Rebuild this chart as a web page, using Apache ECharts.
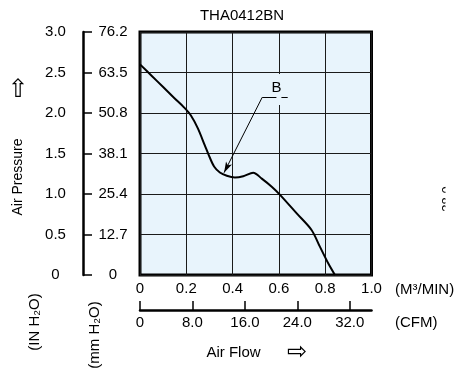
<!DOCTYPE html>
<html>
<head>
<meta charset="utf-8">
<script src="https://cdn.jsdelivr.net/npm/echarts@6/dist/echarts.min.js"></script>
<style>
html,body{margin:0;padding:0;background:#fff;}
#chart{width:455px;height:371px;}
</style>
</head>
<body>
<div id="chart"></div>
<script>
// ---- data ----
const flowM3 =     [0,    0.05, 0.10, 0.15, 0.19, 0.22, 0.25, 0.28, 0.30, 0.32, 0.345, 0.375, 0.41,  0.446, 0.489, 0.526, 0.569, 0.605, 0.677, 0.741, 0.777, 0.813, 0.842];
const pressureIn = [2.60, 2.46, 2.32, 2.18, 2.07, 1.97, 1.81, 1.60, 1.46, 1.34, 1.265, 1.225, 1.205, 1.22,  1.263, 1.19,  1.09,  0.99,  0.76,  0.556, 0.35,  0.144, 0];
const m3Ticks = [0, 0.2, 0.4, 0.6, 0.8, 1.0];
const inTicks = [0, 0.5, 1.0, 1.5, 2.0, 2.5, 3.0];
const mmTicks = [0, 12.7, 25.4, 38.1, 50.8, 63.5, 76.2];
const cfmTicks = [0, 8, 16, 24, 32];
const CFM_MAX = 35.3147;   // 1.0 m3/min in CFM
const titleText = 'THA0412BN';
const curveLabel = 'B';

const FONT = '"Liberation Sans", Arial, sans-serif';
const BG = '#e8f4fc';
const fmt = v => (Math.abs(v) < 1e-9 ? '0' : (+v).toFixed(1));

const chart = echarts.init(document.getElementById('chart'), null, {renderer: 'canvas'});
const series = [
  {
    type: 'line', xAxisIndex: 0, yAxisIndex: 0, z: 5,
    data: flowM3.map((x, i) => [x, pressureIn[i]]),
    smooth: 0.3, showSymbol: false, symbol: 'none',
    lineStyle: {color: '#000', width: 2}
  },
  {
    type: 'line', xAxisIndex: 0, yAxisIndex: 0, z: 3, data: [],
    markPoint: {
      silent: true, animation: false,
      data: [{
        coord: [0.6, 2.29], symbol: 'rect', symbolSize: [5, 31],
        itemStyle: {color: BG},
        label: {show: true, formatter: curveLabel, position: 'inside', offset: [-2.5, -1.5],
                color: '#000', fontSize: 15, fontFamily: FONT}
      }]
    }
  },
  {
    type: 'line', xAxisIndex: 0, yAxisIndex: 0, z: 6, data: [],
    markLine: {
      silent: true, animation: false,
      label: {show: false},
      lineStyle: {color: '#000', width: 1, type: 'solid'},
      data: [
        [{coord: [0.638, 2.194], symbol: 'none'}, {coord: [0.528, 2.194], symbol: 'none'}],
        [{coord: [0.528, 2.194], symbol: 'none'}, {coord: [0.363, 1.263], symbol: 'arrow', symbolSize: [5, 11]}]
      ]
    }
  }
];

const option = {
  animation: false,
  textStyle: {fontFamily: FONT},
  grid: {left: 140, top: 32, width: 231.5, height: 243, show: true,
         backgroundColor: BG, borderColor: '#000', borderWidth: 3},
  xAxis: [
    {
      type: 'value', min: 0, max: 1, interval: 0.2, position: 'bottom',
      axisLine: {show: false}, axisTick: {show: false},
      splitLine: {show: true, lineStyle: {color: '#1a1a1a', width: 1}},
      axisLabel: {color: '#000', fontSize: 15, margin: 6, formatter: fmt, customValues: m3Ticks}
    },
    {
      type: 'value', min: 0, max: CFM_MAX, position: 'bottom', offset: 35,
      axisLine: {show: true, onZero: false, lineStyle: {color: '#000', width: 2.5}},
      axisTick: {show: true, inside: true, length: 9, lineStyle: {color: '#000', width: 1.5}, customValues: cfmTicks},
      splitLine: {show: false},
      axisLabel: {color: '#000', fontSize: 15, margin: 5, formatter: fmt, customValues: cfmTicks}
    }
  ],
  yAxis: [
    {
      type: 'value', min: 0, max: 3, interval: 0.5, position: 'left',
      axisLine: {show: false}, axisTick: {show: false},
      splitLine: {show: true, lineStyle: {color: '#1a1a1a', width: 1}},
      axisLabel: {color: '#000', fontSize: 15, margin: 84.5, align: 'center', formatter: fmt, customValues: inTicks}
    },
    {
      type: 'value', min: 0, max: 76.2, position: 'left', offset: 57,
      axisLine: {show: true, onZero: false, lineStyle: {color: '#000', width: 2.5}},
      axisTick: {show: true, inside: true, length: 9, lineStyle: {color: '#000', width: 1.5}, customValues: mmTicks},
      splitLine: {show: false},
      axisLabel: {inside: true, color: '#000', fontSize: 15, margin: 30, align: 'center', formatter: fmt, customValues: mmTicks}
    }
  ],
  graphic: [
    {type: 'text', x: 242, y: 16, style: {text: titleText, font: '15px ' + FONT, fill: '#000', align: 'center', verticalAlign: 'middle'}},
    {type: 'text', x: 18, y: 177, rotation: Math.PI / 2, style: {text: 'Air Pressure', font: '14px ' + FONT, fill: '#000', align: 'center', verticalAlign: 'middle'}},
    {type: 'text', x: 18, y: 90, style: {text: '⇧', font: '25px "DejaVu Sans"', fill: '#000', align: 'center', verticalAlign: 'middle'}},
    {type: 'text', x: 35, y: 322, rotation: Math.PI / 2, style: {text: '(IN H₂O)', font: '15px ' + FONT, fill: '#000', align: 'center', verticalAlign: 'middle'}},
    {type: 'text', x: 95, y: 335, rotation: Math.PI / 2, style: {text: '(mm H₂O)', font: '15px ' + FONT, fill: '#000', align: 'center', verticalAlign: 'middle'}},
    {type: 'text', x: 395, y: 290, style: {text: '(M³/MIN)', font: '15px ' + FONT, fill: '#000', align: 'left', verticalAlign: 'middle'}},
    {type: 'text', x: 395, y: 323, style: {text: '(CFM)', font: '15px ' + FONT, fill: '#000', align: 'left', verticalAlign: 'middle'}},
    {type: 'text', x: 233.5, y: 353, style: {text: 'Air Flow', font: '15px ' + FONT, fill: '#000', align: 'center', verticalAlign: 'middle'}},
    {type: 'text', x: 297, y: 353, style: {text: '⇨', font: '24px "DejaVu Sans"', fill: '#000', align: 'center', verticalAlign: 'middle'}},
    {type: 'text', x: 447, y: 199, rotation: Math.PI / 2, style: {text: '38.0', font: '13px ' + FONT, fill: '#000', align: 'center', verticalAlign: 'middle'}},
    {type: 'rect', shape: {x: 445.5, y: 180, width: 10, height: 40}, style: {fill: '#fff'}, z: 100}
  ],
  series: series
};
chart.setOption(option);
</script>
</body>
</html>
